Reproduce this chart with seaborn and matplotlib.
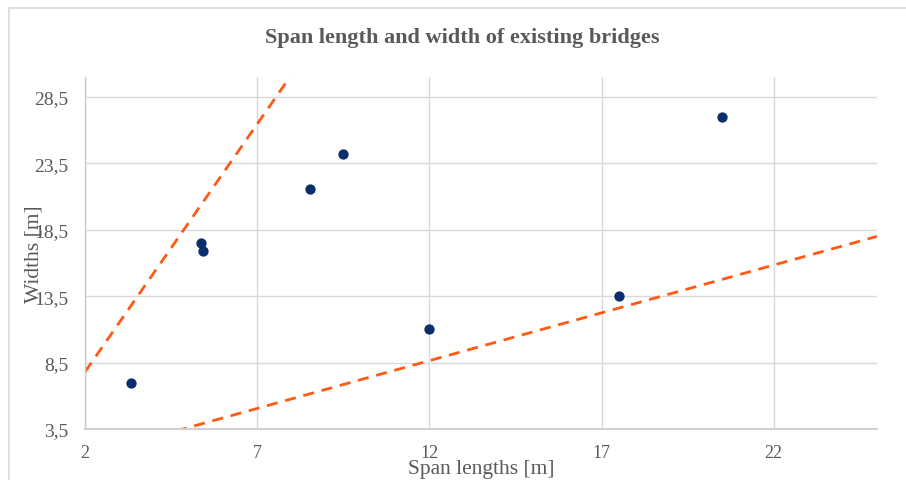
import matplotlib
matplotlib.use("Agg")
import matplotlib.pyplot as plt
import seaborn as sns
import pandas as pd
from matplotlib.lines import Line2D

# Data
span_lengths = [3.33, 5.37, 5.42, 8.53, 9.49, 12.0, 17.5, 20.51]
widths = [7.0, 17.5, 16.9, 21.6, 24.2, 11.0, 13.5, 27.0]
upper_line_x = [2.0, 7.95]
upper_line_y = [7.8, 30.0]
lower_line_x = [4.64, 25.0]
lower_line_y = [3.35, 18.0]
x_ticks = [2, 7, 12, 17, 22]
y_ticks = [3.5, 8.5, 13.5, 18.5, 23.5, 28.5]
y_tick_labels = ["3,5", "8,5", "13,5", "18,5", "23,5", "28,5"]

sns.set_theme(style="white")
plt.rcParams["font.family"] = ["Liberation Serif", "DejaVu Serif"]

W, H = 906, 481
fig = plt.figure(figsize=(W / 100, H / 100), dpi=100)
ax = fig.add_axes([85 / W, 1 - 430 / H, (877 - 85) / W, (430 - 78) / H])

df = pd.DataFrame({"span": span_lengths, "width": widths})
orange = "#FF5A14"
sns.lineplot(x=upper_line_x, y=upper_line_y, ax=ax, color=orange, lw=2,
             linestyle=(0, (4, 2.8)), zorder=2)
sns.lineplot(x=lower_line_x, y=lower_line_y, ax=ax, color=orange, lw=2,
             linestyle=(0, (4, 2.8)), zorder=2)
sns.scatterplot(data=df, x="span", y="width", ax=ax, color="#0B2F6B",
                s=55, edgecolor="#0B2F6B", linewidth=0, zorder=3)

ax.set_xlim(2, 25)
ax.set_ylim(3.5, 30)
ax.set_xticks(x_ticks)
ax.set_xticklabels([str(t) for t in x_ticks])
ax.set_yticks(y_ticks)
ax.set_yticklabels(y_tick_labels)
ax.grid(True, color="#d9d9d9", lw=1)
ax.set_axisbelow(True)
for s in ["top", "right"]:
    ax.spines[s].set_visible(False)
ax.spines["left"].set_color("#c8c8c8")
ax.spines["left"].set_linewidth(1)
ax.spines["bottom"].set_color("#d0d0d0")
ax.spines["bottom"].set_linewidth(1.5)
ax.tick_params(axis="y", length=0, labelsize=14, labelcolor="#595959", pad=12)
ax.tick_params(axis="x", length=0, labelsize=13, labelcolor="#595959", pad=11)

ax.set_xlabel("Span lengths [m]", fontsize=15.5, color="#595959")
ax.xaxis.set_label_coords(0.5, -0.086)
ax.xaxis.label.set_va("top")
ax.set_ylabel("Widths [m]", fontsize=15.5, color="#595959")
ax.yaxis.set_label_coords(-0.052, 0.5)

fig.text(462 / W, 1 - 38 / H, "Span length and width of existing bridges",
         ha="center", va="center", fontsize=16, fontweight="bold", color="#595959")

# chart border (cropped)
fig.add_artist(Line2D([9 / W, 1], [1 - 9 / H, 1 - 9 / H], color="#d9d9d9", lw=1.2,
                      transform=fig.transFigure))
fig.add_artist(Line2D([9 / W, 9 / W], [0, 1 - 9 / H], color="#d9d9d9", lw=1.2,
                      transform=fig.transFigure))

fig.savefig("out.png", dpi=100)
